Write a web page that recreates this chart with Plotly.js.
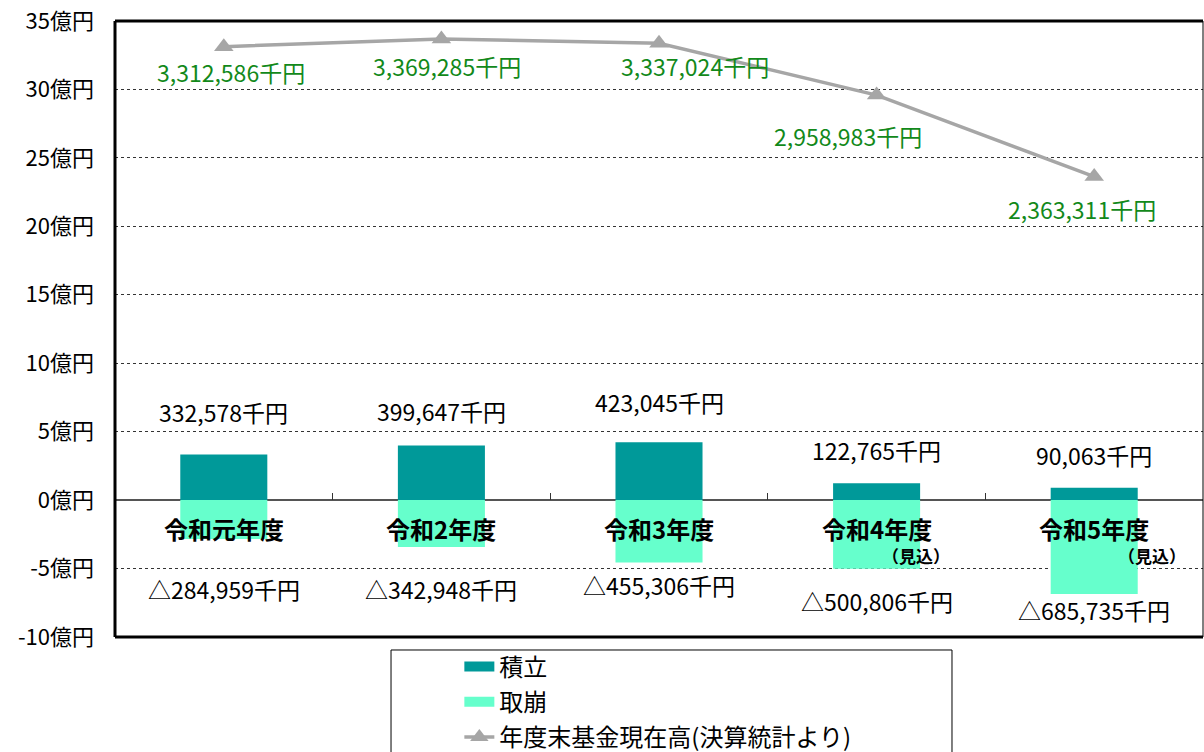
<!DOCTYPE html>
<html>
<head>
<meta charset="utf-8">
<script src="https://cdn.plot.ly/plotly-3.0.1.min.js"></script>
<style>html,body{margin:0;padding:0;background:#fff;}#chart{width:1204px;height:752px;}</style>
</head>
<body>
<div id="chart"></div>
<script>
// ---- data (千円) ----
const categories = ['令和元年度', '令和2年度', '令和3年度', '令和4年度', '令和5年度'];
const categoryNotes = ['', '', '', '（見込）', '（見込）'];
const tsumitate = [332578, 399647, 423045, 122765, 90063];          // 積立
const torikuzushi = [-284959, -342948, -455306, -500806, -685735];  // 取崩
const zandaka = [3312586, 3369285, 3337024, 2958983, 2363311];      // 年度末基金現在高
const yTickVals = [-10, -5, 0, 5, 10, 15, 20, 25, 30, 35];

// ---- styles ----
const FONT = '"Noto Sans CJK JP", "Noto Sans", sans-serif';
const TEAL = '#009999', MINT = '#66FFCC', GRAY = '#A6A6A6', GREEN = '#12891A';
const OKU = 100000; // 千円 -> 億円
const posShift = [24, 15, 21, 14, 14];
const negShift = [-31, -23, -4, -13, 3];
const lineLblDx = [7, 6, 36, -29, -12];
const lineLblDy = [25, 27, 23, 41, 32];
const noteDx = [0, 0, 0, 3, 22];

const xi = categories.map((c, i) => i);
const fmt = v => Math.abs(v).toLocaleString('en-US');

const traces = [
  {type: 'bar', x: xi, y: tsumitate.map(v => v / OKU), width: 0.4, marker: {color: TEAL}, name: '積立', showlegend: false, hoverinfo: 'skip'},
  {type: 'bar', x: xi, y: torikuzushi.map(v => v / OKU), width: 0.4, marker: {color: MINT}, name: '取崩', showlegend: false, hoverinfo: 'skip'},
  {type: 'scatter', x: [null], y: [null], mode: 'lines', line: {color: TEAL, width: 14}, name: '積立', legendgroup: 'a'},
  {type: 'scatter', x: [null], y: [null], mode: 'lines', line: {color: MINT, width: 14}, name: '取崩', legendgroup: 'b'},
  {type: 'scatter', x: xi, y: zandaka.map(v => v / OKU), mode: 'lines+markers', name: '年度末基金現在高(決算統計より)', legendgroup: 'c',
   line: {color: GRAY, width: 3.5}, marker: {symbol: 'triangle-up', size: 17, color: GRAY}, hoverinfo: 'skip'}
];

const annotations = [];
xi.forEach(i => {
  annotations.push({x: i, y: tsumitate[i] / OKU, text: fmt(tsumitate[i]) + '千円', showarrow: false, yanchor: 'bottom', yshift: posShift[i], font: {family: FONT, size: 23, color: '#000'}});
  annotations.push({x: i, y: torikuzushi[i] / OKU, text: '△' + fmt(torikuzushi[i]) + '千円', showarrow: false, yanchor: 'top', yshift: negShift[i], font: {family: FONT, size: 23, color: '#000'}});
  annotations.push({x: i, y: zandaka[i] / OKU, text: fmt(zandaka[i]) + '千円', showarrow: false, yanchor: 'middle', xshift: lineLblDx[i], yshift: -lineLblDy[i], font: {family: FONT, size: 23, color: GREEN}});
  annotations.push({x: i, y: 0, text: '<b>' + categories[i] + '</b>', showarrow: false, yanchor: 'middle', yshift: -28, font: {family: FONT, size: 24, color: '#000'}});
  if (categoryNotes[i]) {
    annotations.push({x: i, y: 0, text: '<b>' + categoryNotes[i] + '</b>', showarrow: false, xanchor: 'left', yanchor: 'middle', xshift: noteDx[i], yshift: -55, font: {family: FONT, size: 17, color: '#000'}});
  }
});

const shapes = [
  {type: 'line', xref: 'paper', yref: 'paper', x0: 0, x1: 0, y0: 0, y1: 1, line: {color: '#000', width: 3}},
  {type: 'line', xref: 'paper', yref: 'paper', x0: 0, x1: 1, y0: 1, y1: 1, line: {color: '#000', width: 3}},
  {type: 'line', xref: 'paper', yref: 'paper', x0: 0, x1: 1, y0: 0, y1: 0, line: {color: '#000', width: 3}},
  {type: 'line', xref: 'paper', yref: 'paper', x0: 1, x1: 1, y0: 0, y1: 1, line: {color: '#000', width: 1}},
  {type: 'rect', xref: 'paper', yref: 'paper', x0: 0.2537, x1: 0.7693, y0: -0.3, y1: -0.0211, line: {color: '#000', width: 1}, fillcolor: 'rgba(0,0,0,0)', layer: 'below'}
];

const layout = {
  width: 1204, height: 752,
  margin: {l: 115, r: 1, t: 21, b: 115, autoexpand: false},
  paper_bgcolor: '#fff', plot_bgcolor: '#fff',
  font: {family: FONT, color: '#000'},
  barmode: 'relative',
  showlegend: true,
  legend: {x: 0.3165, xanchor: 'left', y: -0.012, yanchor: 'top', bgcolor: 'rgba(0,0,0,0)', borderwidth: 0,
           font: {family: FONT, size: 24, color: '#000'}, tracegroupgap: 1, traceorder: 'grouped'},
  xaxis: {type: 'linear', range: [-0.5, 4.5], anchor: 'free', position: 10 / 45, showgrid: false, zeroline: false,
          showline: false, ticks: 'inside', tickvals: [0.5, 1.5, 2.5, 3.5], ticklen: 7, tickcolor: '#333', tickwidth: 1, showticklabels: false},
  yaxis: {range: [-10, 35], tickvals: yTickVals, ticktext: yTickVals.map(v => (v < 0 ? '-' + Math.abs(v) : v) + '億円'),
          showgrid: true, gridcolor: '#333', griddash: 'dot', gridwidth: 1,
          zeroline: true, zerolinecolor: '#555', zerolinewidth: 1.5, showline: false, ticks: '',
          ticklabelstandoff: 20, tickfont: {family: FONT, size: 22, color: '#000'}},
  annotations: annotations,
  shapes: shapes
};

Plotly.newPlot('chart', traces, layout, {staticPlot: true});
</script>
</body>
</html>
